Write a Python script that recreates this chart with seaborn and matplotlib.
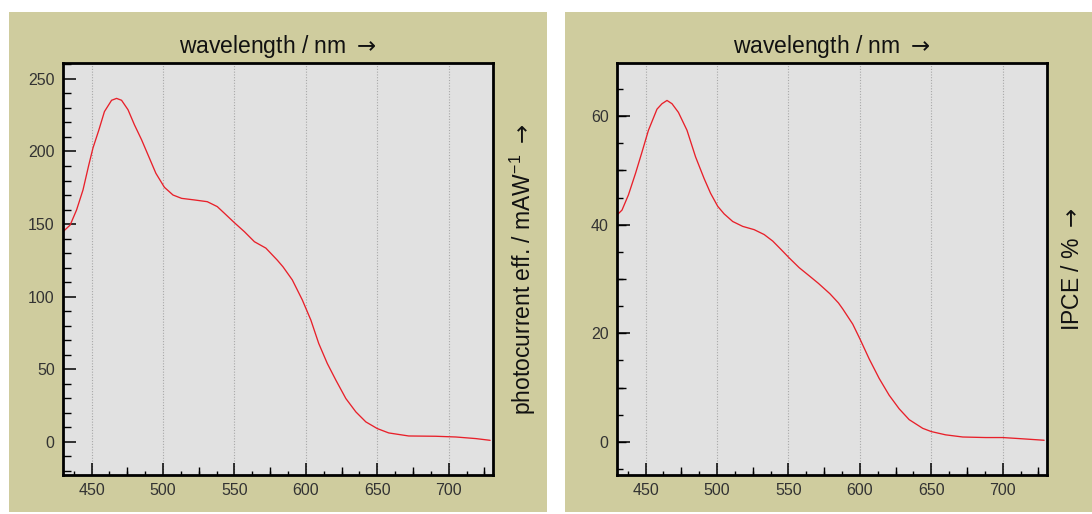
import numpy as np
import pandas as pd
import matplotlib
matplotlib.use("Agg")
import matplotlib.pyplot as plt
from matplotlib.patches import Rectangle
from matplotlib.ticker import MultipleLocator, FixedLocator, NullFormatter
import seaborn as sns

# ---- data ----
wl_left = [430, 435, 439.5, 444, 448, 451, 455, 459, 464, 467.5, 471, 475.5, 480, 485,
           490.5, 495, 501, 507, 513, 522, 531, 538, 543, 550, 557, 564, 572, 580, 584,
           590.5, 597.5, 603.5, 609, 615, 621, 628, 635, 642, 650, 658, 672, 691, 705,
           719, 729]
photocurrent = [144.7, 149.3, 159.7, 173.5, 190.5, 202.5, 214.5, 227.5, 235.3, 236.6,
                235.3, 228.8, 218.4, 208.1, 195.4, 185, 175.3, 170, 167.7, 166.6, 165.4,
                162, 157.4, 150.9, 144.7, 137.8, 133.4, 125.1, 120.5, 111.5, 97.7, 83.8,
                67.7, 53.9, 42.4, 29.7, 20.5, 13.6, 9, 6, 3.9, 3.7, 3.2, 2.1, 0.9]

wl_right = [430, 433.5, 438, 443, 447.5, 452, 458, 461.5, 465, 468.5, 473, 479, 485, 491,
            495.5, 500.5, 505, 511, 518, 526, 533, 539, 545, 550.5, 557.5, 565, 571, 579,
            585, 588, 595, 600, 606.5, 613.5, 620.5, 627.5, 634.5, 644, 650, 660, 672,
            688, 700, 712, 729]
ipce = [41.8, 42.7, 45.5, 49.5, 53.4, 57.4, 61.3, 62.3, 62.9, 62.3, 60.7, 57.4, 52.5,
        48.5, 45.8, 43.4, 42, 40.6, 39.7, 39.1, 38.2, 37, 35.4, 33.9, 32.1, 30.5, 29.2,
        27.3, 25.6, 24.5, 21.7, 19, 15.3, 11.7, 8.6, 6.1, 4.1, 2.5, 1.9, 1.3, 0.9, 0.8,
        0.8, 0.6, 0.3]

x_ticks = [450, 500, 550, 600, 650, 700]
x_label = r"wavelength / nm $\mathsf{\rightarrow}$"
left_ylabel = r"photocurrent eff. / mAW$^{-1}$ $\mathsf{\rightarrow}$"
right_ylabel = r"IPCE / % $\mathsf{\rightarrow}$"

# ---- style ----
sns.set_theme(style="white")
plt.rcParams["font.family"] = ["Liberation Sans", "DejaVu Sans"]
plt.rcParams["mathtext.fontset"] = "custom"
plt.rcParams["mathtext.rm"] = "Liberation Sans"
plt.rcParams["mathtext.sf"] = "DejaVu Sans"
plt.rcParams["mathtext.default"] = "regular"

PANEL = "#cfcc9e"
FACE = "#e1e1e1"
LINE = "#e8202a"
TXT = "#111111"
TICKTXT = "#333333"

fig = plt.figure(figsize=(10.92, 5.14), dpi=100)
fig.patch.set_facecolor("white")
W, H = 1092, 514

def px_rect(x0, y0, x1, y1, color):
    fig.patches.append(Rectangle((x0 / W, 1 - y1 / H), (x1 - x0) / W, (y1 - y0) / H,
                                 transform=fig.transFigure, facecolor=color,
                                 edgecolor="none", zorder=-10))

px_rect(8.5, 11.5, 547, 512, PANEL)
px_rect(565, 11.5, 1092, 512, PANEL)

def make_axes(x0, x1, y0, y1):
    return fig.add_axes([x0 / W, 1 - y1 / H, (x1 - x0) / W, (y1 - y0) / H])

axL = make_axes(63, 493, 63, 475)
axR = make_axes(617, 1047, 63, 475)

df_left = pd.DataFrame({"wl": wl_left, "val": photocurrent})
df_right = pd.DataFrame({"wl": wl_right, "val": ipce})

def style(ax, df, ylim, ymajor, ymid, yminor, ylabel, ylabelpad):
    ax.set_facecolor(FACE)
    sns.lineplot(data=df, x="wl", y="val", ax=ax, color=LINE, linewidth=0.95,
                 estimator=None, sort=False)
    ax.set_xlim(430, 731)
    ax.set_ylim(*ylim)
    for s in ax.spines.values():
        s.set_visible(True)
        s.set_color("black")
        s.set_linewidth(2.0)
    ax.xaxis.set_major_locator(FixedLocator(x_ticks))
    ax.xaxis.set_minor_locator(MultipleLocator(12.5))
    ax.yaxis.set_major_locator(MultipleLocator(ymajor))
    ax.yaxis.set_minor_locator(MultipleLocator(yminor))
    ax.grid(axis="x", which="major", color="#a8a8a8", linestyle=(0, (1, 1.5)),
            linewidth=0.8)
    ax.grid(axis="y", visible=False)
    ax.tick_params(axis="both", which="major", direction="in", length=9, width=1.1,
                   color="black", labelsize=11.5, labelcolor=TICKTXT, pad=6,
                   bottom=True, left=True, top=False, right=False)
    ax.tick_params(axis="x", which="minor", direction="in", length=3, width=1.0,
                   color="black", bottom=True, top=False)
    ax.tick_params(axis="y", which="minor", direction="in", length=4 if ymid else 6,
                   width=1.0, color="black", left=True, right=False)
    # intermediate tick tier (x every 25 nm)
    secx = ax.secondary_xaxis("bottom")
    secx.xaxis.set_major_locator(FixedLocator([475, 525, 575, 625, 675, 725]))
    secx.xaxis.set_major_formatter(NullFormatter())
    secx.tick_params(direction="in", length=6, width=1.0, color="black")
    secx.spines["bottom"].set_visible(False)
    if ymid:
        secy = ax.secondary_yaxis("left")
        locs = np.arange(ylim[0] - ylim[0] % ymid, ylim[1], ymid)
        secy.yaxis.set_major_locator(FixedLocator(list(locs)))
        secy.yaxis.set_major_formatter(NullFormatter())
        secy.tick_params(direction="in", length=6.5, width=1.0, color="black")
        secy.spines["left"].set_visible(False)
    ax.set_xlabel(x_label, fontsize=16.5, color=TXT, labelpad=7)
    ax.xaxis.set_label_position("top")
    ax.set_ylabel(ylabel, fontsize=16.5, color=TXT, labelpad=ylabelpad, rotation=90)
    ax.yaxis.set_label_position("right")

style(axL, df_left, (-23, 261), 50, None, 10, left_ylabel, 11)
style(axR, df_right, (-6.1, 69.8), 20, 10, 5, right_ylabel, 10)

fig.savefig("out.png", dpi=100, facecolor=fig.get_facecolor())
